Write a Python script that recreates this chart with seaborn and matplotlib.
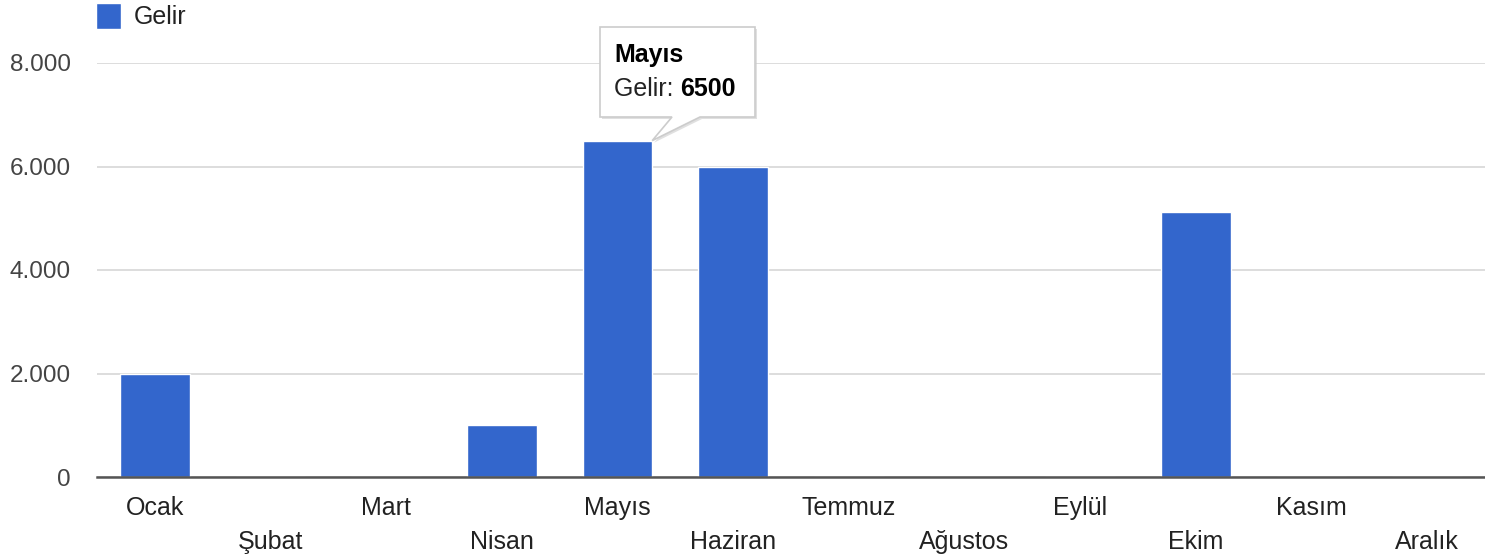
import matplotlib
matplotlib.use("Agg")
import matplotlib.pyplot as plt
from matplotlib.patches import Polygon
from matplotlib.ticker import FuncFormatter
import seaborn as sns
import pandas as pd

# Data
months = ['Ocak', 'Şubat', 'Mart', 'Nisan', 'Mayıs', 'Haziran',
          'Temmuz', 'Ağustos', 'Eylül', 'Ekim', 'Kasım', 'Aralık']
gelir = [2000, 0, 0, 1000, 6500, 6000, 0, 0, 0, 5130, 0, 0]
series_name = 'Gelir'
tooltip_month = 'Mayıs'

df = pd.DataFrame({'Ay': months, series_name: gelir})

sns.set_style('white')
plt.rcParams['font.family'] = ['Liberation Sans', 'DejaVu Sans']

W, H = 1485, 555
fig = plt.figure(figsize=(W / 100, H / 100), dpi=100)
ax = fig.add_axes([97 / W, 1 - 477 / H, 1 - 97 / W, (477 - 63) / H])

sns.barplot(data=df, x='Ay', y=series_name, color='#3366cc', width=0.6,
            saturation=1, label=series_name, ax=ax)

ax.set_ylim(0, 8000)
ax.set_xlim(-0.5, len(months) - 0.5)
ax.set_yticks([0, 2000, 4000, 6000, 8000])
ax.yaxis.set_major_formatter(FuncFormatter(lambda v, p: f'{int(v):,}'.replace(',', '.')))
ax.grid(axis='y', color='#dddddd', linewidth=1.4)
ax.set_axisbelow(True)
for s in ['top', 'right', 'left']:
    ax.spines[s].set_visible(False)
ax.spines['bottom'].set_color('#555555')
ax.spines['bottom'].set_linewidth(1.8)
ax.set_xlabel('')
ax.set_ylabel('')

# staggered month labels
labels = [m if i % 2 == 0 else '\n' + m for i, m in enumerate(months)]
ax.set_xticks(range(len(months)))
ax.set_xticklabels(labels, linespacing=1.5)
ax.tick_params(axis='x', length=0, pad=14, labelsize=18, labelcolor='#222222')
ax.tick_params(axis='y', length=0, pad=19, labelsize=17.5, labelcolor='#444444')

leg = ax.legend(loc='upper left', bbox_to_anchor=(96 / W, 1 - 3 / H),
                bbox_transform=fig.transFigure, frameon=False,
                fontsize=18, handlelength=1.0, handleheight=1.2, handletextpad=0.5,
                borderaxespad=0, borderpad=0)
for t in leg.get_texts():
    t.set_color('#222222')

# tooltip for Mayıs
idx = months.index(tooltip_month)
val = gelir[idx]
px_tip = ax.transData.transform((idx + 0.3, val))


def fp(x, y):
    return (x / W, 1 - y / H)


box_l, box_r, box_t, box_b = 600, 755, 27, 117
tip_x, tip_y = px_tip[0], H - px_tip[1]
pts = [fp(box_l, box_t), fp(box_r, box_t), fp(box_r, box_b), fp(700, box_b),
       fp(tip_x, tip_y), fp(672, box_b), fp(box_l, box_b)]
shadow = Polygon([(x + 2 / W, y - 2 / H) for x, y in pts], closed=True,
                 transform=fig.transFigure, facecolor='#cccccc', edgecolor='none',
                 alpha=0.6, zorder=9)
box = Polygon(pts, closed=True, transform=fig.transFigure, facecolor='white',
              edgecolor='#cccccc', linewidth=1.2, zorder=10)
fig.patches.extend([shadow, box])

fig.text(614 / W, 1 - 55 / H, tooltip_month, fontsize=18, fontweight='bold',
         color='#000000', va='center', ha='left', zorder=11)
t1 = fig.text(614 / W, 1 - 89 / H, f'{series_name}: ', fontsize=18, color='#222222',
              va='center', ha='left', zorder=11)
fig.canvas.draw()
bb = t1.get_window_extent()
fig.text(bb.x1 / W, 1 - 89 / H, f'{val}', fontsize=18, fontweight='bold',
         color='#000000', va='center', ha='left', zorder=11)

fig.savefig('out.png', dpi=100)
